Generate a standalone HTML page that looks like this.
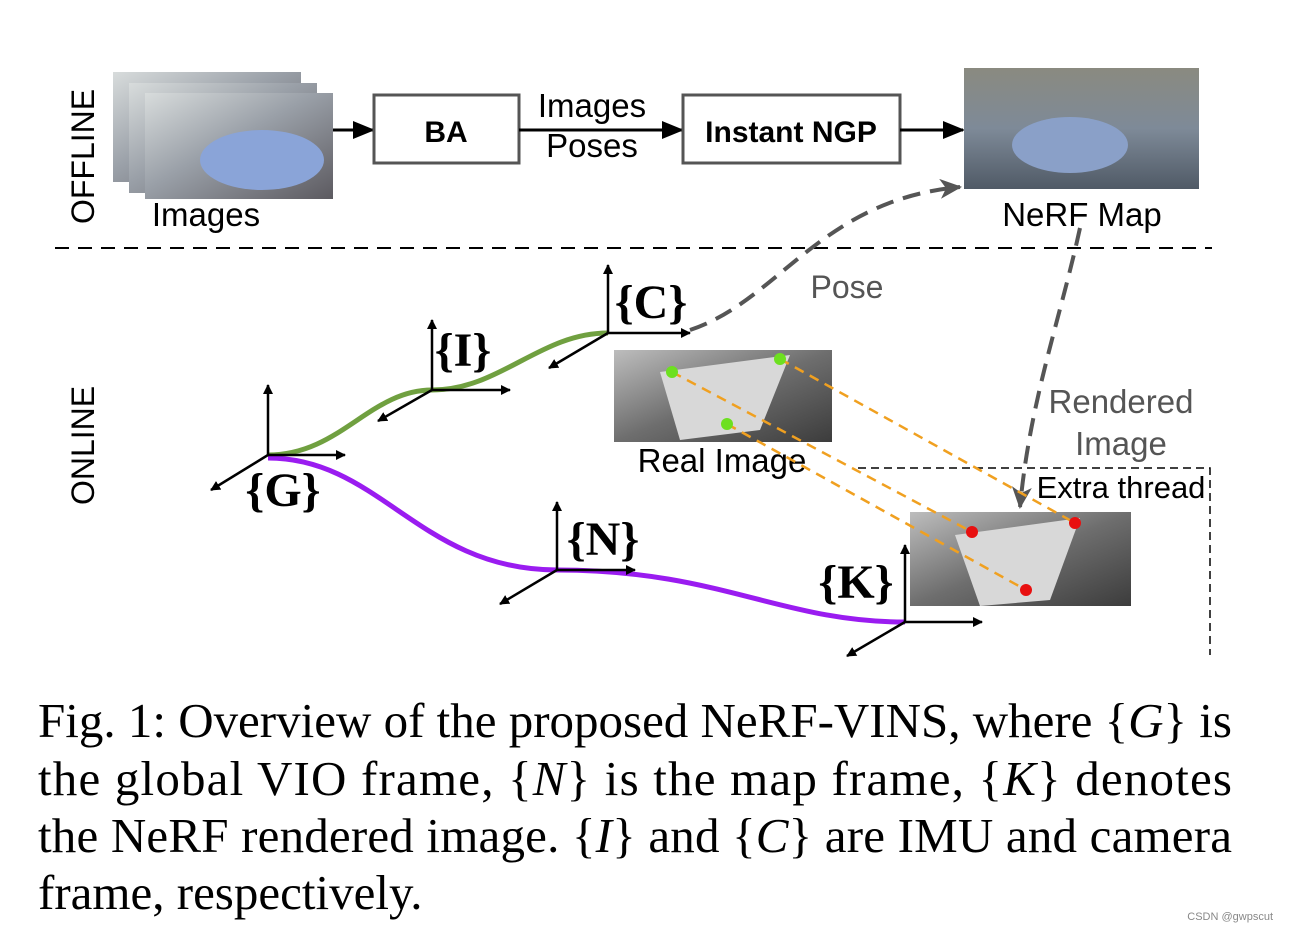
<!DOCTYPE html>
<html><head><meta charset="utf-8"><style>
html,body{margin:0;padding:0;background:#fff;}
svg{display:block;}
</style></head><body>
<svg width="1289" height="933" viewBox="0 0 1289 933" xmlns="http://www.w3.org/2000/svg">
<defs>
<marker id="ab" markerWidth="10" markerHeight="10" refX="9" refY="5" orient="auto" markerUnits="userSpaceOnUse"><path d="M0,0 L10,5 L0,10 z" fill="#000"/></marker>
<marker id="abig" markerWidth="22" markerHeight="18" refX="20" refY="9" orient="auto" markerUnits="userSpaceOnUse"><path d="M0,0 L22,9 L0,18 z" fill="#000"/></marker>
<marker id="ag" markerWidth="24" markerHeight="20" refX="20" refY="10" orient="auto" markerUnits="userSpaceOnUse"><path d="M0,0 L22,10 L0,20 L6,10 z" fill="#555"/></marker>
<linearGradient id="room" x1="0" y1="0" x2="1" y2="1"><stop offset="0" stop-color="#d8dcdc"/><stop offset="0.45" stop-color="#9aa0a8"/><stop offset="1" stop-color="#5c5a60"/></linearGradient>
<linearGradient id="gray" x1="0" y1="0" x2="1" y2="1"><stop offset="0" stop-color="#bdbdbd"/><stop offset="0.5" stop-color="#6e6e6e"/><stop offset="1" stop-color="#3c3c3c"/></linearGradient>
<linearGradient id="nerf" x1="0" y1="0" x2="0" y2="1"><stop offset="0" stop-color="#8a8a80"/><stop offset="0.5" stop-color="#7e8a98"/><stop offset="1" stop-color="#505a66"/></linearGradient>
</defs>

<text transform="translate(94,224) rotate(-90)" font-family="Liberation Sans, sans-serif" font-size="32" fill="#000">OFFLINE</text>
<rect x="113" y="72" width="188" height="110" fill="url(#room)"/>
<rect x="129" y="83" width="188" height="110" fill="url(#room)"/>
<rect x="145" y="93" width="188" height="106" fill="url(#room)"/>
<ellipse cx="262" cy="160" rx="62" ry="30" fill="#8aa4d8"/>
<text x="206" y="226" font-family="Liberation Sans, sans-serif" font-size="33" text-anchor="middle">Images</text>
<line x1="333" y1="130" x2="373" y2="130" stroke="#000" stroke-width="3" marker-end="url(#abig)"/>
<rect x="374" y="95" width="145" height="68" fill="#fff" stroke="#555" stroke-width="3"/>
<text x="446" y="142" font-family="Liberation Sans, sans-serif" font-size="30" font-weight="bold" text-anchor="middle">BA</text>
<text x="592" y="117" font-family="Liberation Sans, sans-serif" font-size="33" text-anchor="middle">Images</text>
<text x="592" y="157" font-family="Liberation Sans, sans-serif" font-size="33" text-anchor="middle">Poses</text>
<line x1="519" y1="130" x2="682" y2="130" stroke="#000" stroke-width="3" marker-end="url(#abig)"/>
<rect x="683" y="95" width="217" height="68" fill="#fff" stroke="#555" stroke-width="3"/>
<text x="791" y="142" font-family="Liberation Sans, sans-serif" font-size="30" font-weight="bold" text-anchor="middle">Instant NGP</text>
<line x1="900" y1="130" x2="963" y2="130" stroke="#000" stroke-width="3" marker-end="url(#abig)"/>
<rect x="964" y="68" width="235" height="121" fill="url(#nerf)"/>
<ellipse cx="1070" cy="145" rx="58" ry="28" fill="#8aa0c8"/>
<text x="1082" y="226" font-family="Liberation Sans, sans-serif" font-size="33" text-anchor="middle">NeRF Map</text>

<line x1="55" y1="248" x2="1212" y2="248" stroke="#000" stroke-width="2" stroke-dasharray="14,9"/>

<text transform="translate(94,505) rotate(-90)" font-family="Liberation Sans, sans-serif" font-size="32">ONLINE</text>

<path d="M268,455 C340,455 370,390 432,390 C500,390 540,333 608,333" fill="none" stroke="#70a040" stroke-width="5"/>
<path d="M268,458 C380,458 420,570 557,570 C720,570 780,622 905,622" fill="none" stroke="#9a1cf0" stroke-width="5"/>

<g stroke="#000" stroke-width="2.5" fill="none">
<line x1="268" y1="455" x2="268" y2="385" marker-end="url(#ab)"/><line x1="268" y1="455" x2="345" y2="455" marker-end="url(#ab)"/><line x1="268" y1="455" x2="211" y2="490" marker-end="url(#ab)"/>
<line x1="432" y1="390" x2="432" y2="320" marker-end="url(#ab)"/><line x1="432" y1="390" x2="510" y2="390" marker-end="url(#ab)"/><line x1="432" y1="390" x2="378" y2="421" marker-end="url(#ab)"/>
<line x1="608" y1="333" x2="608" y2="265" marker-end="url(#ab)"/><line x1="608" y1="333" x2="690" y2="333" marker-end="url(#ab)"/><line x1="608" y1="333" x2="549" y2="368" marker-end="url(#ab)"/>
<line x1="557" y1="570" x2="557" y2="502" marker-end="url(#ab)"/><line x1="557" y1="570" x2="635" y2="570" marker-end="url(#ab)"/><line x1="557" y1="570" x2="500" y2="604" marker-end="url(#ab)"/>
<line x1="905" y1="622" x2="905" y2="545" marker-end="url(#ab)"/><line x1="905" y1="622" x2="982" y2="622" marker-end="url(#ab)"/><line x1="905" y1="622" x2="847" y2="656" marker-end="url(#ab)"/>
</g>
<g font-family="Liberation Serif, serif" font-size="48" font-weight="bold" text-anchor="middle">
<text x="283" y="506">{G}</text>
<text x="463" y="366">{I}</text>
<text x="651" y="318">{C}</text>
<text x="603" y="555">{N}</text>
<text x="856" y="598">{K}</text>
</g>

<path d="M690,330 C780,300 820,200 960,187" fill="none" stroke="#555" stroke-width="4" stroke-dasharray="18,10" marker-end="url(#ag)"/>
<text x="847" y="298" font-family="Liberation Sans, sans-serif" font-size="32" fill="#555" text-anchor="middle">Pose</text>
<path d="M1080,228 C1060,320 1030,400 1020,507" fill="none" stroke="#555" stroke-width="4" stroke-dasharray="18,10" marker-end="url(#ag)"/>
<text x="1121" y="413" font-family="Liberation Sans, sans-serif" font-size="33" fill="#555" text-anchor="middle">Rendered</text>
<text x="1121" y="455" font-family="Liberation Sans, sans-serif" font-size="33" fill="#555" text-anchor="middle">Image</text>

<rect x="614" y="350" width="218" height="92" fill="url(#gray)"/>
<polygon points="660,372 790,355 760,430 680,440" fill="#d8d8d8"/>
<text x="722" y="472" font-family="Liberation Sans, sans-serif" font-size="33" text-anchor="middle">Real Image</text>

<path d="M858,468 L1210,468 L1210,655" fill="none" stroke="#000" stroke-width="1.5" stroke-dasharray="8,5"/>
<text x="1121" y="498" font-family="Liberation Sans, sans-serif" font-size="31" text-anchor="middle">Extra thread</text>

<rect x="910" y="512" width="221" height="94" fill="url(#gray)"/>
<polygon points="955,535 1080,518 1050,600 980,606" fill="#d8d8d8"/>

<g stroke="#f0a020" stroke-width="2.5" stroke-dasharray="10,7">
<line x1="672" y1="372" x2="972" y2="532"/>
<line x1="780" y1="359" x2="1075" y2="523"/>
<line x1="727" y1="424" x2="1026" y2="590"/>
</g>
<g fill="#6de020"><circle cx="672" cy="372" r="6"/><circle cx="780" cy="359" r="6"/><circle cx="727" cy="424" r="6"/></g>
<g fill="#e81010"><circle cx="972" cy="532" r="6"/><circle cx="1075" cy="523" r="6"/><circle cx="1026" cy="590" r="6"/></g>

<g font-family="Liberation Serif, serif" font-size="49" fill="#000">
<text x="38" y="737" textLength="1194" lengthAdjust="spacing">Fig. 1: Overview of the proposed NeRF-VINS, where {<tspan font-style="italic">G</tspan>} is</text>
<text x="38" y="795" textLength="1194" lengthAdjust="spacing">the global VIO frame, {<tspan font-style="italic">N</tspan>} is the map frame, {<tspan font-style="italic">K</tspan>} denotes</text>
<text x="38" y="852" textLength="1194" lengthAdjust="spacing">the NeRF rendered image. {<tspan font-style="italic">I</tspan>} and {<tspan font-style="italic">C</tspan>} are IMU and camera</text>
<text x="38" y="909">frame, respectively.</text>
</g>
<text x="1273" y="920" font-family="Liberation Sans, sans-serif" font-size="11" fill="#888" text-anchor="end">CSDN @gwpscut</text>
</svg>
</body></html>
